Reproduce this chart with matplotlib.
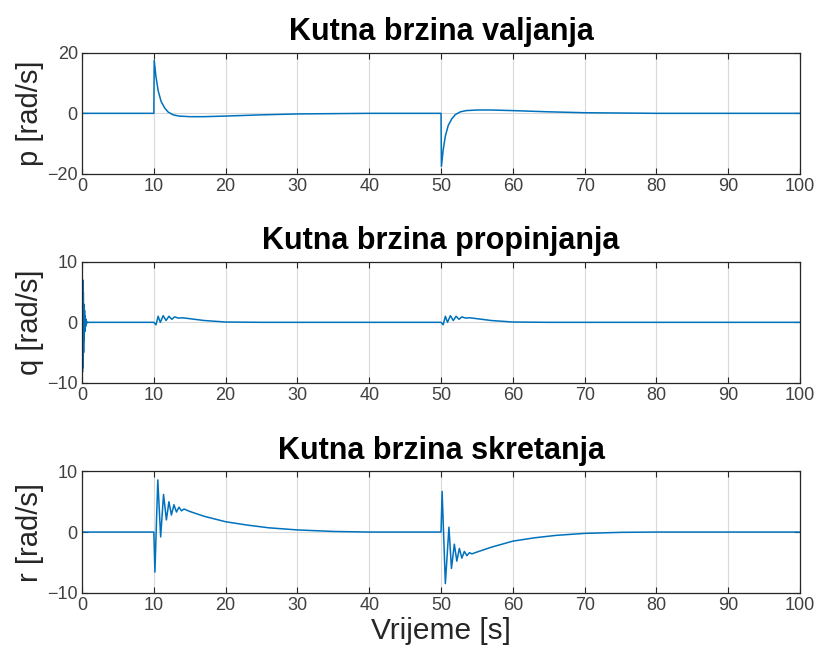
import numpy as np
import matplotlib
matplotlib.use('Agg')
import matplotlib.pyplot as plt

# Kutna brzina valjanja p [rad/s]
p_t = [0, 10, 10.05, 10.3, 10.6, 11, 11.5, 12, 12.7, 13.5, 15, 17, 20, 25, 30, 35, 40,
       50, 50.05, 50.3, 50.6, 51, 51.5, 52, 52.7, 53.5, 55, 57, 60, 65, 70, 75, 80, 100]
p_v = [0, 0, 17.5, 12, 7.5, 4, 1.8, 0.4, -0.5, -0.9, -1.1, -1.1, -0.9, -0.5, -0.2, -0.1, 0,
       0, -17.5, -12, -7.5, -4, -1.8, -0.4, 0.5, 0.9, 1.1, 1.1, 0.9, 0.5, 0.2, 0.1, 0, 0]

# Kutna brzina propinjanja q [rad/s]
q_t = [0, 0.02, 0.06, 0.1, 0.14, 0.18, 0.22, 0.26, 0.3, 0.35, 0.4, 0.45, 0.5,
       0.55, 0.6, 0.7, 0.8,
       10, 10.3, 10.6, 10.9, 11.3, 11.7, 12.1, 12.5, 12.9, 13.4, 14, 15, 17, 20, 25,
       50, 50.3, 50.6, 50.9, 51.3, 51.7, 52.1, 52.5, 52.9, 53.4, 54, 55, 57, 60, 65,
       100]
q_v = [0, 8.8, -8.2, 7, -7.5, 5, -5, 3, -3, 2, -1.5, 1, -0.7,
       0.5, -0.3, 0.1, 0,
       0, -0.4, 1.0, 0, 1.1, 0.3, 1.0, 0.5, 0.9, 0.7, 0.75, 0.6, 0.3, 0.05, 0,
       0, -0.4, 1.0, 0, 1.1, 0.3, 1.0, 0.5, 0.9, 0.7, 0.75, 0.6, 0.3, 0.05, 0,
       0]

# Kutna brzina skretanja r [rad/s]
r_t = [0, 10, 10.15, 10.55, 10.95, 11.35, 11.75, 12.1, 12.45, 12.8, 13.15, 13.5,
       13.85, 14.2, 15, 17, 20, 23, 26, 30, 35, 40,
       50, 50.15, 50.6, 51.1, 51.45, 51.85, 52.2, 52.55, 52.9, 53.25, 53.6,
       53.95, 54.3, 55, 57, 60, 63, 66, 70, 75, 80, 100]
r_v = [0, 0, -6.6, 8.6, -0.8, 6.2, 2, 5, 2.8, 4.5, 3.3, 4.1,
       3.5, 3.8, 3.4, 2.6, 1.7, 1.15, 0.7, 0.35, 0.1, 0,
       0, 6.7, -8.5, 0.8, -6, -2, -4.8, -2.7, -4.3, -3.2, -3.9,
       -3.4, -3.6, -3.3, -2.5, -1.5, -0.95, -0.55, -0.22, -0.05, 0, 0]

titles = ['Kutna brzina valjanja', 'Kutna brzina propinjanja', 'Kutna brzina skretanja']
ylabels = ['p [rad/s]', 'q [rad/s]', 'r [rad/s]']
ylims = [(-20, 20), (-10, 10), (-10, 10)]
yticks = [[-20, 0, 20], [-10, 0, 10], [-10, 0, 10]]
xticks = list(range(0, 101, 10))

plt.rcParams['font.family'] = ['Liberation Sans', 'DejaVu Sans']

fig = plt.figure(figsize=(8.22, 6.62), dpi=100)
left, width = 0.0998, 0.8735
bottoms = [0.7372, 0.4215, 0.1047]
height = 0.1832

series = [(p_t, p_v), (q_t, q_v), (r_t, r_v)]
line_col = '#0072BD'
axis_col = '#262626'
label_col = '#404040'

for i, (t, v) in enumerate(series):
    ax = fig.add_axes([left, bottoms[i], width, height])
    ax.plot(t, v, color=line_col, lw=1.1)
    ax.set_xlim(0, 100)
    ax.set_ylim(*ylims[i])
    ax.set_xticks(xticks)
    ax.set_yticks(yticks[i])
    ax.grid(True, color='#d9d9d9', lw=0.8)
    ax.set_axisbelow(True)
    ax.tick_params(direction='in', top=True, right=True, labelsize=13,
                   color=axis_col, labelcolor=label_col, length=4, pad=3)
    for s in ax.spines.values():
        s.set_color(axis_col)
        s.set_linewidth(0.9)
    ax.set_title(titles[i], fontsize=22, fontweight='bold', pad=9)
    ax.set_ylabel(ylabels[i], fontsize=21, labelpad=2, color='#262626')
    if i == 2:
        ax.set_xlabel('Vrijeme [s]', fontsize=21.5, labelpad=2, color='#262626')

fig.savefig('out.png', dpi=100, facecolor='white')
